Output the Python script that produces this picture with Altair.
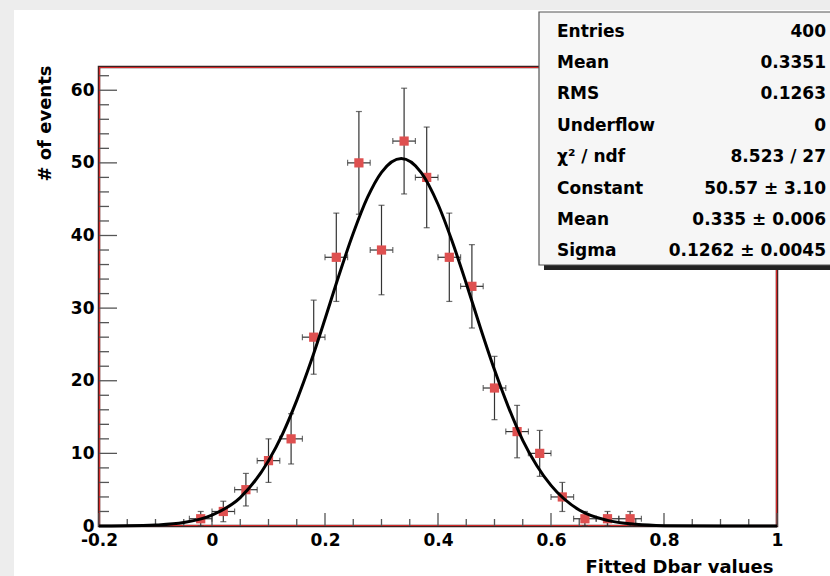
import altair as alt
import pandas as pd

# ---- data ----
bin_centers = [-0.02, 0.02, 0.06, 0.10, 0.14, 0.18, 0.22, 0.26, 0.30, 0.34,
               0.38, 0.42, 0.46, 0.50, 0.54, 0.58, 0.62, 0.66, 0.70, 0.74]
counts = [1, 2, 5, 9, 12, 26, 37, 50, 38, 53,
          48, 37, 33, 19, 13, 10, 4, 1, 1, 1]
errors = [1.0, 1.41, 2.24, 3.0, 3.46, 5.10, 6.08, 7.07, 6.16, 7.28,
          6.93, 6.08, 5.74, 4.36, 3.61, 3.16, 2.0, 1.0, 1.0, 1.0]
half_bin = 0.02

fit_x = [-0.2, -0.15, -0.1, -0.05, 0.0, 0.05, 0.1, 0.125, 0.15, 0.175, 0.2, 0.225,
         0.25, 0.275, 0.3, 0.335, 0.37, 0.4, 0.425, 0.45, 0.475, 0.5, 0.525, 0.55,
         0.575, 0.6, 0.65, 0.7, 0.75, 0.8, 0.9, 1.0]
fit_y = [0.01, 0.03, 0.13, 0.47, 1.5, 3.9, 9.0, 12.7, 17.3, 22.6, 28.5, 34.6,
         40.3, 45.2, 48.7, 50.6, 48.7, 44.3, 39.2, 33.4, 27.3, 21.5, 16.3, 11.8,
         8.3, 5.6, 2.2, 0.77, 0.23, 0.05, 0.0, 0.0]

x_major = [-0.2, 0.0, 0.2, 0.4, 0.6, 0.8, 1.0]
x_minor = [-0.15, -0.1, -0.05, 0.05, 0.1, 0.15, 0.25, 0.3, 0.35, 0.45, 0.5, 0.55,
           0.65, 0.7, 0.75, 0.85, 0.9, 0.95]
y_major = [0, 10, 20, 30, 40, 50, 60]
y_minor = [2, 4, 6, 8, 12, 14, 16, 18, 22, 24, 26, 28, 32, 34, 36, 38,
           42, 44, 46, 48, 52, 54, 56, 58, 62]

stat_labels = ["Entries", "Mean", "RMS", "Underflow", "\u03c7\u00b2 / ndf",
               "Constant", "Mean", "Sigma"]
stat_values = ["400", "0.3351", "0.1263", "0", "8.523 / 27",
               "50.57 \u00b1 3.10", "0.335 \u00b1 0.006", "0.1262 \u00b1 0.0045"]

x_title = "Fitted Dbar values"
y_title = "# of events"

# ---- layout ----
W, H = 678, 459
PAD = {"left": 99, "top": 67, "right": 53, "bottom": 50}
FONT = "DejaVu Sans"

hist = pd.DataFrame({"x": bin_centers, "y": counts, "e": errors})
fit = pd.DataFrame({"x": fit_x, "y": fit_y})
one = pd.DataFrame({"a": [0]})

xs = alt.Scale(domain=[-0.2, 1.0], nice=False, zero=False)
ys = alt.Scale(domain=[0, 63.2], nice=False, zero=False)

x_axis = alt.Axis(values=x_major, labelExpr="'' + round(datum.value*10)/10",
                  domain=False, ticks=False, tickSize=0, grid=False, zindex=2,
                  labelFont=FONT, labelFontWeight="bold", labelFontSize=17,
                  labelColor="black", labelPadding=6, labelFlush=False,
                  labelOverlap=False,
                  title=x_title, titleFont=FONT, titleFontWeight="bold",
                  titleFontSize=18, titleColor="black", titleAngle=0,
                  titleAlign="right", titleBaseline="alphabetic",
                  titleX=W - 4, titleY=46)
y_axis = alt.Axis(values=y_major, format="d",
                  domain=False, ticks=False, tickSize=0, grid=False, zindex=2,
                  labelFont=FONT, labelFontWeight="bold", labelFontSize=17,
                  labelColor="black", labelPadding=5, labelFlush=False,
                  labelOverlap=False,
                  title=y_title, titleFont=FONT, titleFontWeight="bold",
                  titleFontSize=18, titleColor="black", titleAngle=270,
                  titleAlign="right", titleBaseline="middle",
                  titleX=-54, titleY=-2)

def X(field):
    return alt.X(f"{field}:Q", scale=xs, axis=x_axis)

def Y(field):
    return alt.Y(f"{field}:Q", scale=ys, axis=y_axis)

# white pad region (outer grey strip is the page background)
bg = alt.Chart(one).mark_rect(color="white").encode(
    x=alt.value(-85), x2=alt.value(W + PAD["right"]),
    y=alt.value(-57), y2=alt.value(H + PAD["bottom"]))

frame_dark = alt.Chart(one).mark_rect(fillOpacity=0, stroke="#3a2020", strokeWidth=2.5).encode(
    x=alt.value(0), x2=alt.value(W), y=alt.value(0), y2=alt.value(H))
frame_red = alt.Chart(one).mark_rect(fillOpacity=0, stroke="#d42a2a", strokeWidth=1.2).encode(
    x=alt.value(0.5), x2=alt.value(W - 0.5), y=alt.value(0.5), y2=alt.value(H - 0.5))

tick_color = "#555555"
xmaj = alt.Chart(pd.DataFrame({"v": x_major})).mark_rule(color=tick_color, strokeWidth=1.3).encode(
    x=X("v"), y=alt.value(H), y2=alt.value(H - 13))
xmin = alt.Chart(pd.DataFrame({"v": x_minor})).mark_rule(color=tick_color, strokeWidth=1.3).encode(
    x=X("v"), y=alt.value(H), y2=alt.value(H - 7))
ymaj = alt.Chart(pd.DataFrame({"v": y_major})).mark_rule(color=tick_color, strokeWidth=1.3).encode(
    y=Y("v"), x=alt.value(0), x2=alt.value(18))
ymin = alt.Chart(pd.DataFrame({"v": y_minor})).mark_rule(color=tick_color, strokeWidth=1.3).encode(
    y=Y("v"), x=alt.value(0), x2=alt.value(10))

base = alt.Chart(hist).transform_calculate(
    lo="datum.y - datum.e", hi="datum.y + datum.e",
    xl=f"datum.x - {half_bin}", xr=f"datum.x + {half_bin}")

err_col = "#333333"
vbar = base.mark_rule(color=err_col, strokeWidth=1.2).encode(x=X("x"), y=Y("lo"), y2="hi:Q")
hbar = base.mark_rule(color=err_col, strokeWidth=1.2).encode(x=X("xl"), x2="xr:Q", y=Y("y"))
cap_lo = base.mark_tick(color=err_col, orient="horizontal", size=6, thickness=1.2).encode(x=X("x"), y=Y("lo"))
cap_hi = base.mark_tick(color=err_col, orient="horizontal", size=6, thickness=1.2).encode(x=X("x"), y=Y("hi"))
cap_l = base.mark_tick(color=err_col, orient="vertical", size=6, thickness=1.2).encode(x=X("xl"), y=Y("y"))
cap_r = base.mark_tick(color=err_col, orient="vertical", size=6, thickness=1.2).encode(x=X("xr"), y=Y("y"))

pts = alt.Chart(hist).mark_square(size=85, color="#de5050", opacity=1).encode(x=X("x"), y=Y("y"))

curve = alt.Chart(fit).mark_line(color="black", strokeWidth=3, interpolate="monotone").encode(
    x=X("x"), y=Y("y"))

# stats box
box_l, box_t, box_b = 539 - PAD["left"], 12 - PAD["top"], 265 - PAD["top"]
shadow = alt.Chart(one).mark_rect(color="#222222").encode(
    x=alt.value(box_l + 5), x2=alt.value(W + PAD["right"] + 5),
    y=alt.value(box_t + 5), y2=alt.value(box_b + 5))
box = alt.Chart(one).mark_rect(color="#f6f6f6", stroke="#555555", strokeWidth=1.2).encode(
    x=alt.value(box_l), x2=alt.value(W + PAD["right"] + 5),
    y=alt.value(box_t), y2=alt.value(box_b))

stat_layers = []
for i, (lab, val) in enumerate(zip(stat_labels, stat_values)):
    yy = 36.5 - PAD["top"] + 31.4 * i
    stat_layers.append(alt.Chart(one).mark_text(
        align="left", baseline="alphabetic", font=FONT, fontWeight="bold",
        fontSize=17, color="black").encode(
        x=alt.value(557 - PAD["left"]), y=alt.value(yy), text=alt.value(lab)))
    stat_layers.append(alt.Chart(one).mark_text(
        align="right", baseline="alphabetic", font=FONT, fontWeight="bold",
        fontSize=17, color="black").encode(
        x=alt.value(826 - PAD["left"]), y=alt.value(yy), text=alt.value(val)))

chart = alt.layer(
    bg, frame_dark, frame_red, xmaj, xmin, ymaj, ymin,
    vbar, hbar, cap_lo, cap_hi, cap_l, cap_r, pts, curve,
    shadow, box, *stat_layers
).properties(
    width=W, height=H,
    autosize=alt.AutoSizeParams(type="none"),
    padding=PAD,
    background="#ededed",
).configure_view(stroke="transparent")

chart.save("out.html", embed_options={"renderer": "svg", "actions": False})
